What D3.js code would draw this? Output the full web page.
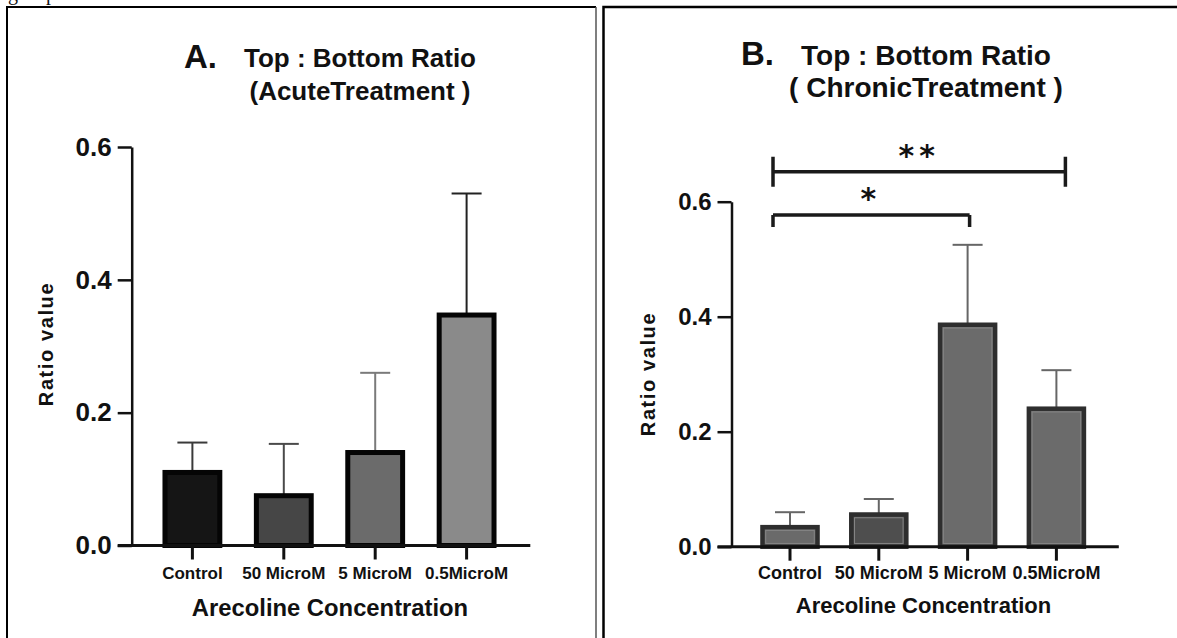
<!DOCTYPE html>
<meta charset="utf-8">
<script src="https://d3js.org/d3.v7.min.js"></script>
<style>
body { margin: 0; background: #fff; }
svg { display: block; }
text { font-family: "Liberation Sans", Arial, sans-serif; font-weight: bold; fill: #111; }
</style>
<body>
<script>

// DATA
const categories = ["Control", "50 MicroM", "5 MicroM", "0.5MicroM"];
const yTicks = [0, 0.2, 0.4, 0.6];

const acuteMeans = [0.110, 0.075, 0.140, 0.347];
const acuteSem   = [0.045, 0.078, 0.120, 0.183];

const chronicMeans = [0.034, 0.056, 0.386, 0.240];
const chronicSem   = [0.026, 0.027, 0.139, 0.067];

const chronicSig = [
  {from: "Control", to: "5 MicroM",  label: "*",  level: 0.577},
  {from: "Control", to: "0.5MicroM", label: "**", level: 0.652}
];

const width = 1177;
const height = 638;

const svg = d3.select("body").append("svg")
  .attr("width", width)
  .attr("height", height);

// ---------------------------//
//       TABLE BORDERS        //
// ---------------------------//

svg.append("text")
  .attr("x", 8).attr("y", 0)
  .style("font-family", "Liberation Serif").style("font-weight", "normal").style("font-size", "20px")
  .text("g");
svg.append("text")
  .attr("x", 46).attr("y", 0)
  .style("font-family", "Liberation Serif").style("font-weight", "normal").style("font-size", "20px")
  .text("p");

svg.append("path")
  .attr("d", "M7,660 V7 H596")
  .attr("fill", "none").attr("stroke", "#000").attr("stroke-width", 2);
svg.append("line")
  .attr("x1", 596).attr("y1", 7).attr("x2", 596).attr("y2", 660)
  .attr("stroke", "#555").attr("stroke-width", 1.5);
svg.append("path")
  .attr("d", "M603.5,660 V7 H1200")
  .attr("fill", "none").attr("stroke", "#000").attr("stroke-width", 2.5);

// ---------------------------//
//         PANELS             //
// ---------------------------//

const panelA = {
  means: acuteMeans, sem: acuteSem,
  xRange: [146.7, 512.3], pad: 0.4,
  yRange: [545.5, 147], axisX: 131.7,
  fills: ["#151515", "#464646", "#6b6b6b", "#8a8a8a"],
  errColors: ["#3a3a3a", "#4a4a4a", "#7a7a7a", "#222"],
  barStroke: "#050505", barStrokeWidth: 5, innerLine: null,
  yFont: 26, xFont: 17, xPad: 7,
  letter: "A.", letterX: 184, letterY: 68, letterFont: 33,
  title1: "Top : Bottom Ratio", title2: "(AcuteTreatment )",
  titleX: 360, title1Y: 67, title2Y: 100, titleFont: 26,
  yTitleX: 53, yTitleY: 344,
  xTitleX: 330, xTitleY: 616, xTitleFont: 23.8,
  sig: []
};

const panelB = {
  means: chronicMeans, sem: chronicSem,
  xRange: [745.6, 1100.8], pad: 0.38,
  yRange: [546.7, 201.7], axisX: 731.5,
  fills: ["#6a6a6a", "#4e4e4e", "#6b6b6b", "#6b6b6b"],
  errColors: ["#666", "#666", "#666", "#666"],
  barStroke: "#2e2e2e", barStrokeWidth: 4.5, innerLine: "#858585",
  yFont: 24, xFont: 18, xPad: 6,
  letter: "B.", letterX: 741, letterY: 65, letterFont: 33,
  title1: "Top : Bottom Ratio", title2: "( ChronicTreatment )",
  titleX: 926, title1Y: 65, title2Y: 97, titleFont: 28,
  yTitleX: 655, yTitleY: 374,
  xTitleX: 923.5, xTitleY: 613, xTitleFont: 22,
  sig: chronicSig
};

function drawPanel(p) {
  const g = svg.append("g");

  const x = d3.scaleBand()
    .domain(categories)
    .range(p.xRange)
    .paddingInner(p.pad)
    .paddingOuter(p.pad / 2);

  const y = d3.scaleLinear()
    .domain([0, 0.6])
    .range(p.yRange);

  const rows = categories.map((c, i) => ({cat: c, mean: p.means[i], sem: p.sem[i], i: i}));
  const capHalf = 15;

  // error bars (drawn under the bars)
  const err = g.selectAll(".err").data(rows).enter().append("g")
    .attr("stroke", d => p.errColors[d.i])
    .attr("stroke-width", 2);
  err.append("line")
    .attr("x1", d => x(d.cat) + x.bandwidth() / 2)
    .attr("x2", d => x(d.cat) + x.bandwidth() / 2)
    .attr("y1", d => y(d.mean))
    .attr("y2", d => y(d.mean + d.sem));
  err.append("line")
    .attr("x1", d => x(d.cat) + x.bandwidth() / 2 - capHalf)
    .attr("x2", d => x(d.cat) + x.bandwidth() / 2 + capHalf)
    .attr("y1", d => y(d.mean + d.sem))
    .attr("y2", d => y(d.mean + d.sem));

  // bars
  g.selectAll(".bar").data(rows).enter().append("rect")
    .attr("x", d => x(d.cat))
    .attr("width", x.bandwidth())
    .attr("y", d => y(d.mean))
    .attr("height", d => y(0) - y(d.mean))
    .attr("fill", d => p.fills[d.i])
    .attr("stroke", p.barStroke)
    .attr("stroke-width", p.barStrokeWidth);

  // faint inner outline seen on the chronic bars
  if (p.innerLine) {
    const inset = p.barStrokeWidth / 2 + 1;
    g.selectAll(".inner").data(rows).enter().append("rect")
      .attr("x", d => x(d.cat) + inset)
      .attr("width", x.bandwidth() - 2 * inset)
      .attr("y", d => y(d.mean) + inset)
      .attr("height", d => Math.max(0, y(0) - y(d.mean) - 2 * inset))
      .attr("fill", "none")
      .attr("stroke", p.innerLine)
      .attr("stroke-width", 1);
  }

  // y axis
  const yAxis = g.append("g")
    .attr("transform", `translate(${p.axisX},0)`)
    .call(d3.axisLeft(y)
      .tickValues(yTicks)
      .tickFormat(d3.format(".1f"))
      .tickSize(14)
      .tickSizeOuter(0)
      .tickPadding(6));
  yAxis.select(".domain").attr("stroke", "#111").attr("stroke-width", 2.5);
  yAxis.selectAll(".tick line").attr("stroke", "#111").attr("stroke-width", 2.5);
  yAxis.selectAll(".tick text")
    .style("font-size", p.yFont + "px")
    .style("font-family", "'Liberation Sans', Arial, sans-serif")
    .style("font-weight", "bold")
    .attr("fill", "#111");

  // x axis
  const xAxis = g.append("g")
    .attr("transform", `translate(0,${y(0)})`)
    .call(d3.axisBottom(x)
      .tickSize(14)
      .tickSizeOuter(0)
      .tickPadding(p.xPad));
  xAxis.select(".domain").remove();
  xAxis.selectAll(".tick line").attr("stroke", "#111").attr("stroke-width", 3);
  xAxis.selectAll(".tick text")
    .style("font-size", p.xFont + "px")
    .style("font-family", "'Liberation Sans', Arial, sans-serif")
    .style("font-weight", "bold")
    .attr("fill", "#222");

  g.append("line")
    .attr("x1", p.axisX - 14)
    .attr("x2", p.xRange[1] + 18)
    .attr("y1", y(0))
    .attr("y2", y(0))
    .attr("stroke", "#111")
    .attr("stroke-width", 3);

  // titles
  g.append("text")
    .attr("x", p.letterX).attr("y", p.letterY)
    .style("font-size", p.letterFont + "px")
    .text(p.letter);
  g.append("text")
    .attr("x", p.titleX).attr("y", p.title1Y)
    .attr("text-anchor", "middle")
    .style("font-size", p.titleFont + "px")
    .attr("fill", "#1a1a1a")
    .text(p.title1);
  g.append("text")
    .attr("x", p.titleX).attr("y", p.title2Y)
    .attr("text-anchor", "middle")
    .style("font-size", p.titleFont + "px")
    .attr("fill", "#1a1a1a")
    .text(p.title2);

  g.append("text")
    .attr("transform", `translate(${p.yTitleX},${p.yTitleY}) rotate(-90)`)
    .attr("text-anchor", "middle")
    .style("font-size", "20px")
    .style("letter-spacing", "1.6px")
    .attr("fill", "#222")
    .text("Ratio value");

  g.append("text")
    .attr("x", p.xTitleX).attr("y", p.xTitleY)
    .attr("text-anchor", "middle")
    .style("font-size", p.xTitleFont + "px")
    .attr("fill", "#222")
    .text("Arecoline Concentration");

  // significance brackets
  p.sig.forEach((s, k) => {
    const x1 = x(s.from) + x.bandwidth() / 2 - 17;
    const x2 = x(s.to) + x.bandwidth() / 2 + (k === 0 ? 2 : 9);
    const yy = y(s.level);
    const up = k === 0 ? 0 : 15;
    const down = k === 0 ? 12 : 15;
    g.append("path")
      .attr("d", `M${x1},${yy - up} V${yy + down} M${x1},${yy} H${x2} M${x2},${yy - up} V${yy + down}`)
      .attr("fill", "none")
      .attr("stroke", "#1a1a1a")
      .attr("stroke-width", 3.5);
    g.append("text")
      .attr("x", (x1 + x2) / 2 + (k === 0 ? -3 : 0))
      .attr("y", yy - 6)
      .attr("text-anchor", "middle")
      .style("font-family", "'DejaVu Sans', sans-serif")
      .style("font-size", "30px")
      .style("letter-spacing", k === 0 ? "0px" : "5px")
      .text(s.label);
  });
}

drawPanel(panelA);
drawPanel(panelB);

</script>
</body>
